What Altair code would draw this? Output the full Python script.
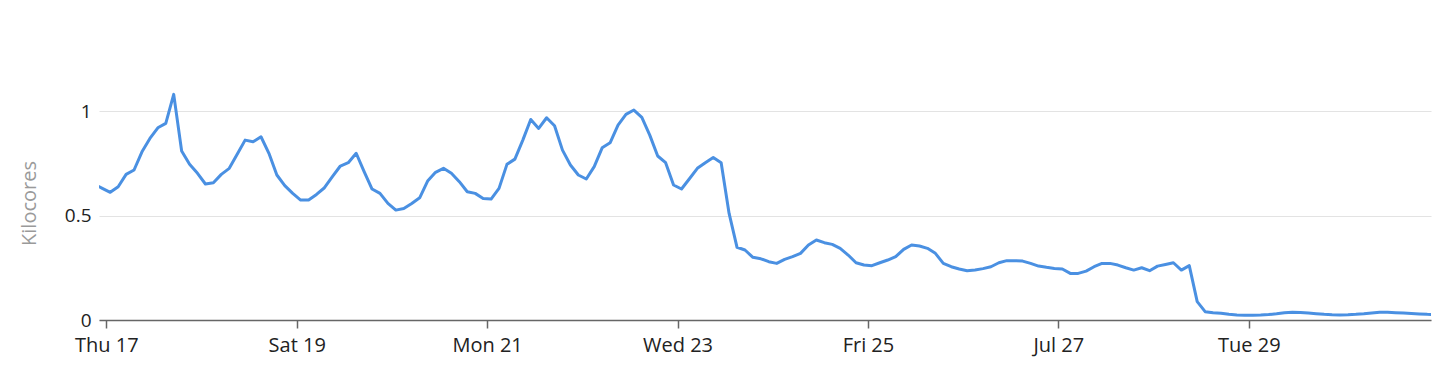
import altair as alt
import pandas as pd

# Kilocores sampled every 2 hours, starting Jul 16 2025 21:00 (local)
start_time = "2025-07-16 21:00"
step = "2h"
kilocores = [
    0.650, 0.630, 0.611, 0.638, 0.697, 0.718, 0.805, 0.869, 0.920, 0.941,
    1.080, 0.809, 0.745, 0.702, 0.651, 0.657, 0.697, 0.726, 0.793, 0.861,
    0.853, 0.877, 0.798, 0.694, 0.643, 0.606, 0.574, 0.574, 0.601, 0.633,
    0.686, 0.737, 0.753, 0.798, 0.710, 0.627, 0.606, 0.558, 0.526, 0.534,
    0.558, 0.585, 0.665, 0.707, 0.726, 0.702, 0.662, 0.614, 0.606, 0.582,
    0.579, 0.630, 0.745, 0.770, 0.861, 0.960, 0.917, 0.968, 0.930, 0.813,
    0.742, 0.694, 0.675, 0.734, 0.824, 0.848, 0.933, 0.984, 1.005, 0.970,
    0.885, 0.785, 0.753, 0.646, 0.627, 0.676, 0.726, 0.753, 0.778, 0.753,
    0.510, 0.348, 0.335, 0.300, 0.293, 0.279, 0.271, 0.290, 0.303, 0.319,
    0.359, 0.383, 0.370, 0.362, 0.343, 0.311, 0.274, 0.263, 0.260, 0.274,
    0.287, 0.303, 0.338, 0.359, 0.354, 0.343, 0.319, 0.271, 0.255, 0.244,
    0.236, 0.239, 0.246, 0.255, 0.274, 0.284, 0.284, 0.282, 0.271, 0.258,
    0.252, 0.247, 0.244, 0.223, 0.223, 0.234, 0.255, 0.271, 0.271, 0.263,
    0.250, 0.239, 0.250, 0.236, 0.258, 0.266, 0.274, 0.239, 0.260, 0.088,
    0.040, 0.035, 0.032, 0.027, 0.024, 0.023, 0.023, 0.024, 0.026, 0.030,
    0.035, 0.037, 0.036, 0.033, 0.030, 0.027, 0.025, 0.024, 0.025, 0.027,
    0.030, 0.034, 0.037, 0.037, 0.035, 0.033, 0.031, 0.029, 0.027, 0.026,
]
y_ticks = [0, 0.5, 1]

times = pd.date_range(start_time, periods=len(kilocores), freq=step)
df = pd.DataFrame({"time": times, "value": kilocores})

FONT = "Open Sans"

chart = (
    alt.Chart(df)
    .mark_line(color="#4a90e2", strokeWidth=3, clip=True, strokeJoin="round")
    .encode(
        x=alt.X(
            "time:T",
            title=None,
            scale=alt.Scale(
                domain=[
                    alt.DateTime(year=2025, month=7, date=16, hours=22, minutes=10),
                    alt.DateTime(year=2025, month=7, date=30, hours=21, minutes=56),
                ],
                nice=False,
            ),
            axis=alt.Axis(
                tickCount={"interval": "day", "step": 2},
                grid=False,
                domainColor="#666666",
                domainWidth=1.5,
                tickColor="#666666",
                tickWidth=1.5,
                tickSize=8,
                labelFont=FONT,
                labelFontSize=20,
                labelColor="#222222",
                labelPadding=7,
                labelFlush=False,
            ),
        ),
        y=alt.Y(
            "value:Q",
            title="Kilocores",
            scale=alt.Scale(domain=[0, 1.12], nice=False, zero=True),
            axis=alt.Axis(
                values=y_ticks,
                format="~g",
                domain=False,
                ticks=False,
                grid=True,
                gridColor="#e3e3e3",
                gridWidth=1,
                labelFont=FONT,
                labelFontSize=19,
                labelColor="#222222",
                labelPadding=8,
                titleFont=FONT,
                titleFontSize=20,
                titleFontWeight="normal",
                titleColor="#9a9a9a",
                titlePadding=25,
            ),
        ),
    )
    .properties(
        width=1332,
        height=234,
        padding={"left": 19, "top": 86, "right": 5, "bottom": 5},
    )
    .configure_view(stroke=None)
)

chart.save("out.html", embed_options={"renderer": "svg", "actions": False})
